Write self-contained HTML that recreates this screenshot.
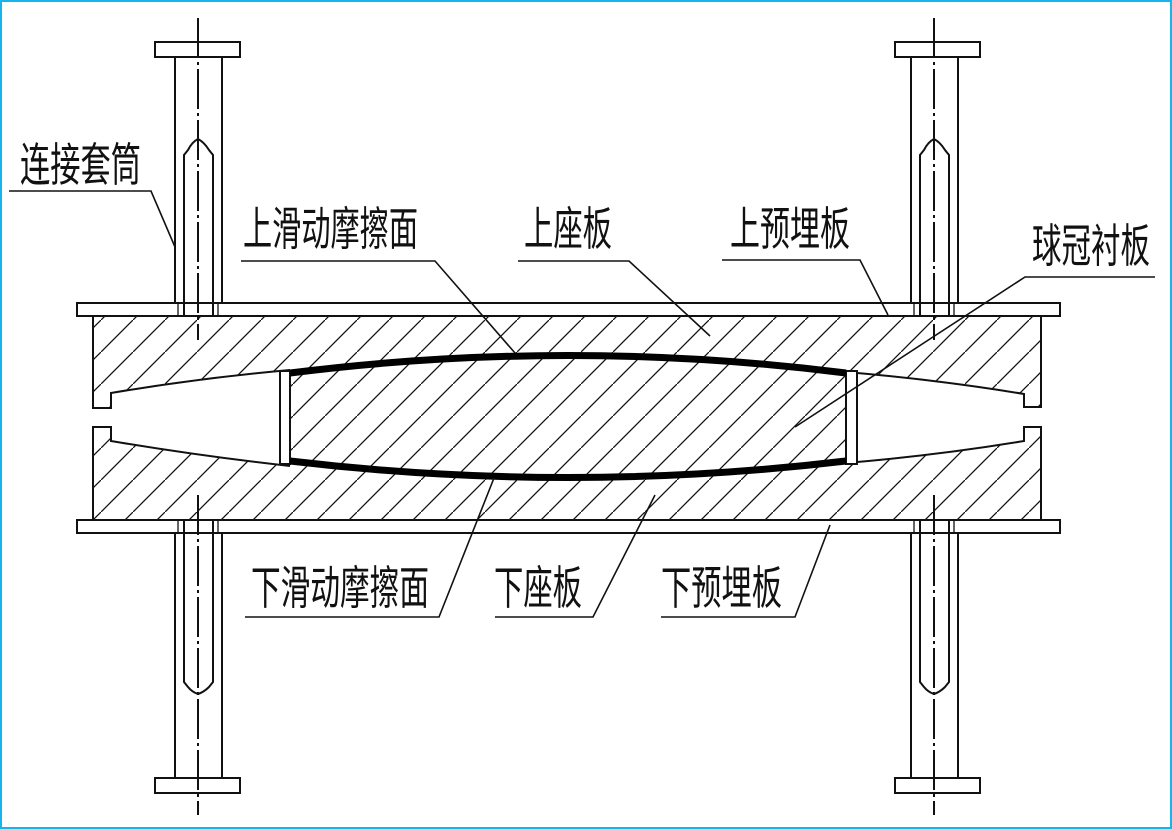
<!DOCTYPE html>
<html><head><meta charset="utf-8"><style>
html,body{margin:0;padding:0;background:#fff;}
svg{display:block;}
text{font-family:"Liberation Sans","Noto Sans CJK SC",sans-serif;font-size:46px;fill:#111;}
</style></head><body>
<svg width="1172" height="829" viewBox="0 0 1172 829" xmlns="http://www.w3.org/2000/svg">
<defs>
<pattern id="h" patternUnits="userSpaceOnUse" width="32" height="32" x="5" y="0">
<line x1="-2" y1="34" x2="34" y2="-2" stroke="#111" stroke-width="1.3"/>
</pattern>
</defs>
<rect x="1" y="1" width="1170" height="827" fill="#fff" stroke="#14b4ec" stroke-width="2"/>

<!-- hatched blocks -->
<rect x="93" y="316" width="948" height="204" fill="url(#h)"/>
<!-- gaps -->
<path d="M93,408 L111,408 L111,393 Q200,378 280,370 L280,465 Q200,456 111,441 L111,427 L93,427 Z" fill="#fff"/>
<path d="M1041,407 L1024,407 L1024,394 Q940,380 857,372 L857,463 Q940,455 1024,441 L1024,427 L1041,427 Z" fill="#fff"/>
<g fill="none" stroke="#111" stroke-width="2">
<!-- block outlines -->
<path d="M93,316 L93,408 L111,408 L111,393 Q200,378 290,370"/>
<path d="M1041,316 L1041,407 L1024,407 L1024,394 Q940,380 846,372"/>
<path d="M93,520 L93,427 L111,427 L111,441 Q200,456 290,466"/>
<path d="M1041,520 L1041,427 L1024,427 L1024,441 Q940,455 846,463"/>
<!-- spacers -->
<rect x="280" y="371" width="10" height="93" fill="#fff"/>
<rect x="846" y="371" width="11" height="93" fill="#fff"/>
<!-- plates -->
<rect x="77" y="303" width="983" height="13" fill="#fff"/>
<rect x="77" y="520" width="983" height="13" fill="#fff"/>
</g>
<!-- thick sliding surfaces -->
<path d="M290,373 Q568,338 846,373" fill="none" stroke="#000" stroke-width="7"/>
<path d="M290,461 Q568,494 846,461" fill="none" stroke="#000" stroke-width="7"/>

<!-- bolts -->
<g fill="none" stroke="#111" stroke-width="2">
<!-- top left -->
<rect x="155" y="42" width="85" height="15" fill="#fff"/>
<line x1="175" y1="57" x2="175" y2="303"/><line x1="222" y1="57" x2="222" y2="303"/>
<path d="M184,316 L184,155 L188,150 Q192,142 198,139 Q204,142 209,150 L213,155 L213,316"/>
<line x1="178" y1="303" x2="178" y2="316" stroke-width="1.3"/><line x1="218" y1="303" x2="218" y2="316" stroke-width="1.3"/>
<!-- bottom left -->
<rect x="155" y="778" width="85" height="15" fill="#fff"/>
<line x1="175" y1="533" x2="175" y2="778"/><line x1="222" y1="533" x2="222" y2="778"/>
<path d="M184,520 L184,682 L188,687 Q192,692 198,694 Q204,692 209,687 L213,682 L213,520"/>
<line x1="178" y1="520" x2="178" y2="533" stroke-width="1.3"/><line x1="218" y1="520" x2="218" y2="533" stroke-width="1.3"/>
<!-- top right -->
<rect x="895" y="42" width="85" height="15" fill="#fff"/>
<line x1="911" y1="57" x2="911" y2="303"/><line x1="958" y1="57" x2="958" y2="303"/>
<path d="M920,316 L920,155 L924,150 Q928,142 934,139 Q940,142 945,150 L949,155 L949,316"/>
<line x1="914" y1="303" x2="914" y2="316" stroke-width="1.3"/><line x1="954" y1="303" x2="954" y2="316" stroke-width="1.3"/>
<!-- bottom right -->
<rect x="895" y="778" width="85" height="15" fill="#fff"/>
<line x1="911" y1="533" x2="911" y2="778"/><line x1="958" y1="533" x2="958" y2="778"/>
<path d="M920,520 L920,682 L924,687 Q928,692 934,694 Q940,692 945,687 L949,682 L949,520"/>
<line x1="914" y1="520" x2="914" y2="533" stroke-width="1.3"/><line x1="954" y1="520" x2="954" y2="533" stroke-width="1.3"/>
</g>
<!-- centerlines -->
<g stroke="#111" stroke-width="2" stroke-dasharray="40,4,3,4">
<line x1="198" y1="18" x2="198" y2="340"/>
<line x1="198" y1="495" x2="198" y2="815"/>
<line x1="934" y1="18" x2="934" y2="340"/>
<line x1="934" y1="495" x2="934" y2="815"/>
</g>

<!-- leaders -->
<g fill="none" stroke="#111" stroke-width="1.6">
<polyline points="9,191 151,191 175,247"/>
<polyline points="241,261 435,261 515,353"/>
<polyline points="518,261 629,261 710,336"/>
<polyline points="722,260 860,260 888,315"/>
<polyline points="1155,277 1025,277 795,427"/>
<polyline points="245,617 439,617 494,478"/>
<polyline points="495,617 593,617 655,495"/>
<polyline points="661,617 795,617 830,525"/>
</g>

<!-- labels -->
<text x="20" y="181" textLength="121" lengthAdjust="spacingAndGlyphs">连接套筒</text>
<text x="243" y="245" textLength="175" lengthAdjust="spacingAndGlyphs">上滑动摩擦面</text>
<text x="524" y="245" textLength="88" lengthAdjust="spacingAndGlyphs">上座板</text>
<text x="730" y="245" textLength="120" lengthAdjust="spacingAndGlyphs">上预埋板</text>
<text x="1032" y="262" textLength="118" lengthAdjust="spacingAndGlyphs">球冠衬板</text>
<text x="251" y="604" textLength="178" lengthAdjust="spacingAndGlyphs">下滑动摩擦面</text>
<text x="494" y="604" textLength="88" lengthAdjust="spacingAndGlyphs">下座板</text>
<text x="661" y="604" textLength="121" lengthAdjust="spacingAndGlyphs">下预埋板</text>
</svg>
</body></html>
